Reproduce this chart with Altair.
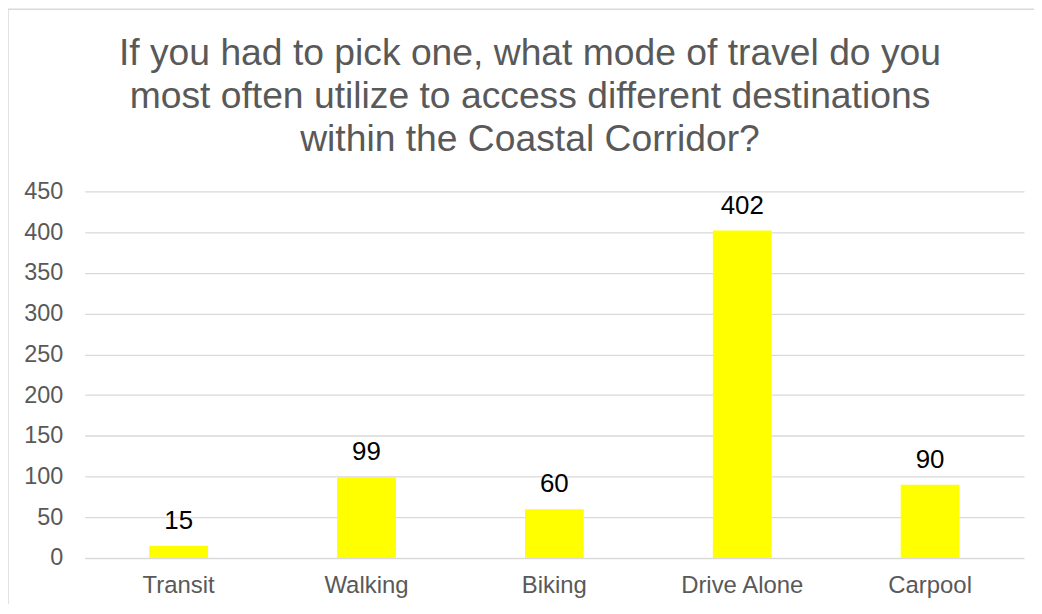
import altair as alt
import pandas as pd

categories = ["Transit", "Walking", "Biking", "Drive Alone", "Carpool"]
values = [15, 99, 60, 402, 90]
title_lines = [
    "If you had to pick one, what mode of travel do you",
    "most often utilize to access different destinations",
    "within the Coastal Corridor?",
]
y_ticks = [0, 50, 100, 150, 200, 250, 300, 350, 400, 450]

df = pd.DataFrame({"mode": categories, "count": values})
FONT = "Liberation Sans"

base = alt.Chart(df).encode(
    x=alt.X("mode:N", sort=categories, title=None,
            scale=alt.Scale(paddingInner=0, paddingOuter=0),
            axis=alt.Axis(labelAngle=0, labelFontSize=24, labelColor="#595959",
                          labelFont=FONT, ticks=False, domain=False, grid=False,
                          labelPadding=16)),
    y=alt.Y("count:Q", title=None,
            scale=alt.Scale(domain=[0, 450], nice=False),
            axis=alt.Axis(values=y_ticks, labelFontSize=23.5, labelColor="#595959",
                          labelFont=FONT, ticks=False, domain=False,
                          gridColor="#d9d9d9", gridWidth=1.3, labelPadding=22)),
)

bars = base.mark_bar(color="#FFFF00", size=59)
labels = base.mark_text(baseline="alphabetic", dy=-17, fontSize=26,
                        font=FONT, color="#000000").encode(text="count:Q")

border = alt.Chart(pd.DataFrame({"k": [0]})).mark_rect(
    fill="transparent", stroke="#d9d9d9", strokeWidth=1.5
).encode(
    x=alt.value(-77), x2=alt.value(1100),
    y=alt.value(-183), y2=alt.value(700),
)

title = alt.Chart(pd.DataFrame({"k": [0]})).mark_text(
    text=title_lines, fontSize=37.4, font=FONT, color="#595959",
    align="center", baseline="alphabetic", lineHeight=43
).encode(x=alt.value(447), y=alt.value(-127))

chart = alt.layer(border, bars, labels, title).properties(
    width=943, height=368,
    padding={"left": 77, "top": 183, "right": 10, "bottom": 45},
    autosize=alt.AutoSizeParams(type="none"),
).configure_view(strokeWidth=0)

chart.save("out.html", embed_options={"renderer": "svg", "actions": False})
